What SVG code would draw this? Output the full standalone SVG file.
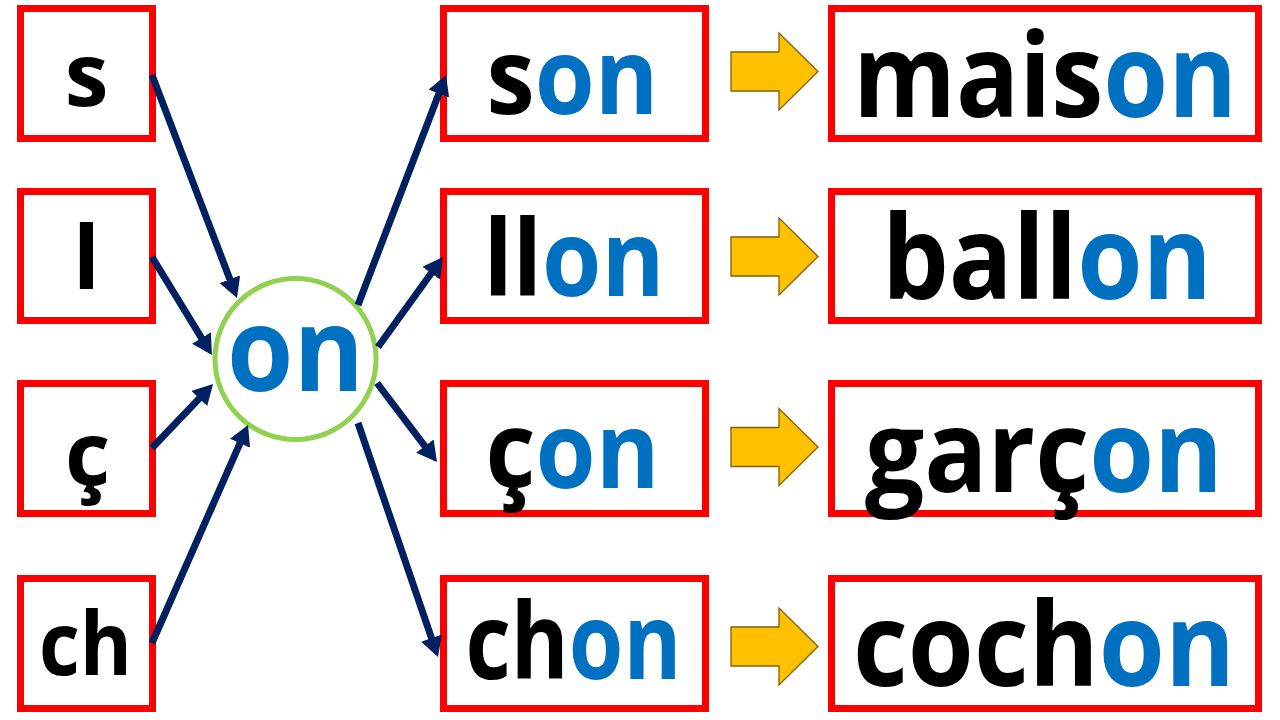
<svg xmlns="http://www.w3.org/2000/svg" width="1280" height="720" viewBox="0 0 1280 720">
<defs>
<style>
.box{fill:#FFFFFF;stroke:#FF0000;stroke-width:7}
.t{font-family:"Open Sans","Noto Sans","Liberation Sans",sans-serif;font-weight:700;fill:#000000}
.b{fill:#0070C0}
.con{stroke:#002060;stroke-width:7;fill:none;marker-end:url(#ah)}
.ya{fill:#FFC000;stroke:#7F6000;stroke-width:1.3;stroke-linejoin:miter}
</style>
<marker id="ah" markerUnits="userSpaceOnUse" markerWidth="21" markerHeight="22" refX="4" refY="11" orient="auto">
<path d="M0,0 L20,11 L0,22 z" fill="#002060"/>
</marker>
</defs>
<rect width="1280" height="720" fill="#FFFFFF"/>

<g id="left-s"><rect class="box" x="20.5" y="8.5" width="132" height="130"/><text class="t" x="86.5" y="106" font-size="88" text-anchor="middle">s</text></g>
<g id="left-l"><rect class="box" x="20.5" y="191.5" width="132" height="129"/><text class="t" x="86.5" y="289" font-size="88" text-anchor="middle">l</text></g>
<g id="left-c"><rect class="box" x="20.5" y="383.5" width="132" height="130"/><text class="t" x="87.5" y="485" font-size="88" text-anchor="middle">ç</text></g>
<g id="left-ch"><rect class="box" x="20.5" y="578.5" width="132" height="130"/><text class="t" x="85.5" y="675" font-size="88" text-anchor="middle" textLength="93" lengthAdjust="spacingAndGlyphs">ch</text></g>

<g id="center-on"><circle cx="295.5" cy="359" r="80.5" fill="#FFFFFF" stroke="#92D050" stroke-width="5"/><text class="t b" x="295.5" y="391" font-size="116" text-anchor="middle" textLength="137" lengthAdjust="spacingAndGlyphs">on</text></g>

<g id="mid-son"><rect class="box" x="443.5" y="8.5" width="262" height="130"/><text class="t" x="572.5" y="114" font-size="106" text-anchor="middle" textLength="172" lengthAdjust="spacingAndGlyphs">s<tspan class="b">on</tspan></text></g>
<g id="mid-llon"><rect class="box" x="443.5" y="191.5" width="262" height="129"/><text class="t" x="574" y="296" font-size="106" text-anchor="middle" textLength="181" lengthAdjust="spacingAndGlyphs">ll<tspan class="b">on</tspan></text></g>
<g id="mid-con"><rect class="box" x="443.5" y="383.5" width="262" height="130"/><text class="t" x="572.5" y="488" font-size="106" text-anchor="middle" textLength="174" lengthAdjust="spacingAndGlyphs">ç<tspan class="b">on</tspan></text></g>
<g id="mid-chon"><rect class="box" x="443.5" y="578.5" width="262" height="130"/><text class="t" x="573.5" y="679" font-size="106" text-anchor="middle" textLength="216" lengthAdjust="spacingAndGlyphs">ch<tspan class="b">on</tspan></text></g>

<g id="right-maison"><rect class="box" x="831.5" y="8.5" width="427" height="130"/><text class="t" x="1045" y="117" font-size="116" text-anchor="middle" textLength="384" lengthAdjust="spacingAndGlyphs">mais<tspan class="b">on</tspan></text></g>
<g id="right-ballon"><rect class="box" x="831.5" y="191.5" width="427" height="129"/><text class="t" x="1047" y="299" font-size="116" text-anchor="middle" textLength="330" lengthAdjust="spacingAndGlyphs">ball<tspan class="b">on</tspan></text></g>
<g id="right-garcon"><rect class="box" x="831.5" y="383.5" width="427" height="130"/><text class="t" x="1044" y="492" font-size="114" text-anchor="middle" textLength="358" lengthAdjust="spacingAndGlyphs">garç<tspan class="b">on</tspan></text></g>
<g id="right-cochon"><rect class="box" x="831.5" y="578.5" width="427" height="130"/><text class="t" x="1044" y="686" font-size="116" text-anchor="middle" textLength="382" lengthAdjust="spacingAndGlyphs">coch<tspan class="b">on</tspan></text></g>

<g id="connectors">
<line class="con" x1="152" y1="75" x2="231.3" y2="283"/>
<line class="con" x1="152" y1="257" x2="203.6" y2="341.4"/>
<line class="con" x1="152" y1="448" x2="202" y2="395.6"/>
<line class="con" x1="152" y1="643" x2="241.6" y2="439.6"/>
<line class="con" x1="358" y1="305" x2="440.3" y2="89.9"/>
<line class="con" x1="378" y1="347" x2="433.6" y2="270"/>
<line class="con" x1="377" y1="383" x2="427.3" y2="449.3"/>
<line class="con" x1="358" y1="423" x2="432.8" y2="641.9"/>
<polygon class="ya" points="731,52 779,52 779,33 818,71.5 779,110 779,91 731,91"/>
<polygon class="ya" points="731,237 779,237 779,218 818,256.5 779,295 779,276 731,276"/>
<polygon class="ya" points="731,427.5 779,427.5 779,408.5 818,447 779,485.5 779,466.5 731,466.5"/>
<polygon class="ya" points="731,627 779,627 779,608 818,646.5 779,685 779,666 731,666"/>
</g>
</svg>
